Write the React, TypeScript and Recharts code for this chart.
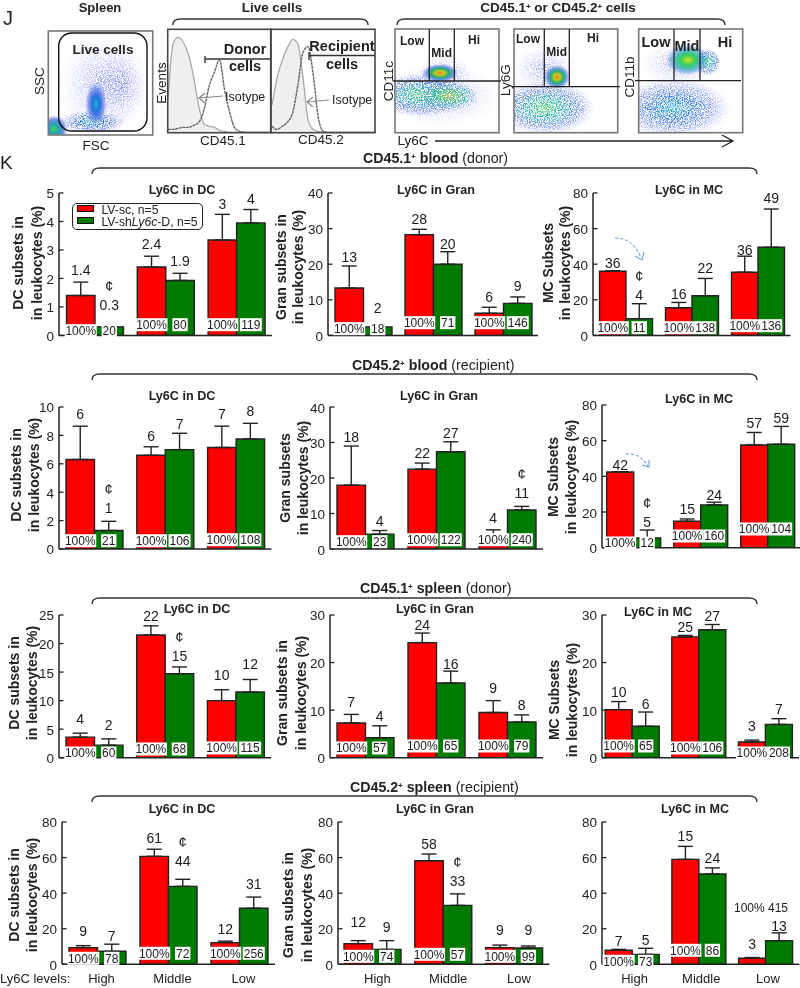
import React from 'react';
import { BarChart, Bar, XAxis, YAxis, ErrorBar, LabelList, Legend, ComposedChart, Area, Line } from 'recharts';

const FONT = '"Liberation Sans", Arial, sans-serif';
const INK = '#222';

// ---------- data: bars ----------
const levels = ['High', 'Middle', 'Low'];
const seriesNames = ['LV-sc, n=5', 'LV-shLy6c-D, n=5'];

const dcBloodDonorRed = [1.4, 2.4, 3.35];
const dcBloodDonorGreen = [0.3, 1.93, 3.95];
const dcBloodDonorRedErr = [0.47, 0.38, 0.9];
const dcBloodDonorGreenErr = [0, 0.25, 0.47];
const dcBloodDonorLabels = ['1.4', '2.4', '3', '0.3', '1.9', '4'];
const dcBloodDonorPct = ['20', '80', '119'];

const granBloodDonorRed = [13.3, 28.3, 6.2];
const granBloodDonorGreen = [2.4, 20, 9];
const granBloodDonorRedErr = [6.2, 1.5, 1.7];
const granBloodDonorGreenErr = [0, 3.5, 1.8];
const granBloodDonorLabels = ['13', '28', '6', '2', '20', '9'];
const granBloodDonorPct = ['18', '71', '146'];

const mcBloodDonorRed = [36, 15.5, 35.5];
const mcBloodDonorGreen = [9.4, 22.3, 49.5];
const mcBloodDonorRedErr = [0.3, 3, 9];
const mcBloodDonorGreenErr = [8.4, 9.7, 21.5];
const mcBloodDonorLabels = ['36', '16', '36', '4', '22', '49'];
const mcBloodDonorPct = ['11', '138', '136'];

const dcBloodRecRed = [6.3, 6.6, 7.15];
const dcBloodRecGreen = [1.3, 7, 7.75];
const dcBloodRecRedErr = [2.35, 0.6, 1.5];
const dcBloodRecGreenErr = [0.65, 1.15, 1.1];
const dcBloodRecLabels = ['6', '6', '7', '1', '7', '8'];
const dcBloodRecPct = ['21', '106', '108'];

const granBloodRecRed = [18, 22.5, 4];
const granBloodRecGreen = [4.2, 27.4, 11];
const granBloodRecRedErr = [11, 1.7, 1.4];
const granBloodRecGreenErr = [1, 2.8, 1];
const granBloodRecLabels = ['18', '22', '4', '4', '27', '11'];
const granBloodRecPct = ['23', '122', '240'];

const mcBloodRecRed = [42.4, 14.8, 57.6];
const mcBloodRecGreen = [5.4, 24, 58];
const mcBloodRecRedErr = [0.2, 1.3, 7];
const mcBloodRecGreenErr = [4.5, 1.5, 10];
const mcBloodRecLabels = ['42', '15', '57', '5', '24', '59'];
const mcBloodRecPct = ['12', '160', '104'];

const dcSpleenDonorRed = [3.6, 21.5, 10];
const dcSpleenDonorGreen = [2.2, 14.7, 11.5];
const dcSpleenDonorRedErr = [0.7, 1.6, 1.9];
const dcSpleenDonorGreenErr = [1.1, 1.2, 2.2];
const dcSpleenDonorLabels = ['4', '22', '10', '2', '15', '12'];
const dcSpleenDonorPct = ['60', '68', '115'];

const granSpleenDonorRed = [7.3, 24.2, 9.5];
const granSpleenDonorGreen = [4.2, 15.7, 7.5];
const granSpleenDonorRedErr = [1.8, 2, 2.5];
const granSpleenDonorGreenErr = [2.5, 2.5, 1.5];
const granSpleenDonorLabels = ['7', '24', '9', '4', '16', '8'];
const granSpleenDonorPct = ['57', '65', '79'];

const mcSpleenDonorRed = [10.1, 25.4, 3.3];
const mcSpleenDonorGreen = [6.6, 26.9, 7];
const mcSpleenDonorRedErr = [1.7, 0.3, 0.4];
const mcSpleenDonorGreenErr = [3, 1.1, 1.2];
const mcSpleenDonorLabels = ['10', '25', '3', '6', '27', '7'];
const mcSpleenDonorPct = ['65', '106', '208'];

const dcSpleenRecRed = [9.4, 60.7, 12.2];
const dcSpleenRecGreen = [7.3, 43.8, 31.5];
const dcSpleenRecRedErr = [1.1, 4, 0.8];
const dcSpleenRecGreenErr = [4, 4, 6.3];
const dcSpleenRecLabels = ['9', '61', '12', '7', '44', '31'];
const dcSpleenRecPct = ['78', '72', '256'];

const granSpleenRecRed = [11.6, 58.2, 9.4];
const granSpleenRecGreen = [8.4, 33.1, 9.2];
const granSpleenRecRedErr = [1.7, 3.8, 1.4];
const granSpleenRecGreenErr = [4.9, 6.5, 1.1];
const granSpleenRecLabels = ['12', '58', '9', '9', '33', '9'];
const granSpleenRecPct = ['74', '57', '99'];

const mcSpleenRecRed = [7.9, 59, 3.4];
const mcSpleenRecGreen = [5.6, 50.8, 13.3];
const mcSpleenRecRedErr = [0.5, 7.3, 0.4];
const mcSpleenRecGreenErr = [3.4, 3.4, 4.4];
const mcSpleenRecLabels = ['7', '15', '3', '5', '24', '13'];
const mcSpleenRecPct = ['73', '86', ''];

// ---------- data: histograms (percent of panel height, by percent of panel width) ----------
const histX = [0, 5, 10, 15, 20, 25, 30, 35, 40, 45, 50, 55, 60, 65, 70, 80, 90, 100];
const donorIsotype = [32, 86, 92, 87, 75, 53, 25, 8, 6, 5, 2, 1, 0, 0, 0, 0, 0, 0];
const donorCells = [3, 3, 4, 5, 5, 7, 10, 22, 45, 58, 70, 41, 19, 4, 1, 0, 0, 0];
const recipientIsotype = [26, 53, 70, 82, 90, 86, 54, 12, 3, 1, 0, 0, 0, 0, 0, 0, 0, 0];
const recipientCells = [6, 3, 6, 10, 19, 45, 77, 83, 56, 14, 1, 0, 0, 0, 0, 0, 0, 0];

// ---------- layout ----------
const P = [
  { n: 'DC', red: dcBloodDonorRed, green: dcBloodDonorGreen, rE: dcBloodDonorRedErr, gE: dcBloodDonorGreenErr, labels: dcBloodDonorLabels, pct: dcBloodDonorPct, max: 5, ticks: [0, 1, 2, 3, 4, 5], ax: 58.5, x0: 59, band: 70.8, bar: 28.5, top: 193.3, bot: 335.7, lift: [7, 7, 5, 17, 7, 6], boxY: [331, 325, 325], cent: [3], t: ['DC subsets in', 'in leukocytes (%)'], tx: [18, 37, 263], title: [182, 194], legend: true },
  { n: 'Gran', red: granBloodDonorRed, green: granBloodDonorGreen, rE: granBloodDonorRedErr, gE: granBloodDonorGreenErr, labels: granBloodDonorLabels, pct: granBloodDonorPct, max: 40, ticks: [0, 10, 20, 30, 40], ax: 328, x0: 328, band: 70, bar: 28.5, top: 193.3, bot: 335.7, lift: [4, 5, 5, 14, 3, 6], boxY: [329, 323, 323], cent: [], t: ['Gran subsets in', 'in leukocytes (%)'], tx: [281, 298, 267], title: [436, 194] },
  { n: 'MC', red: mcBloodDonorRed, green: mcBloodDonorGreen, rE: mcBloodDonorRedErr, gE: mcBloodDonorGreenErr, labels: mcBloodDonorLabels, pct: mcBloodDonorPct, max: 80, ticks: [0, 20, 40, 60, 80], ax: 593, x0: 592.5, band: 66, bar: 26.5, top: 193.3, bot: 335.7, lift: [3, 3, 1, 4, 5, 6], boxY: [328, 328, 326], cent: [3], t: ['MC Subsets', 'in leukocytes (%)'], tx: [548, 565, 263], title: [689, 194] },

  { n: 'DC', red: dcBloodRecRed, green: dcBloodRecGreen, rE: dcBloodRecRedErr, gE: dcBloodRecGreenErr, labels: dcBloodRecLabels, pct: dcBloodRecPct, max: 10, ticks: [0, 2, 4, 6, 8, 10], ax: 59, x0: 59, band: 70.8, bar: 28.5, top: 407.3, bot: 549.3, lift: [7, 6, 7, 8, 4, 7], boxY: [541, 541, 540], cent: [3], t: ['DC subsets in', 'in leukocytes (%)'], tx: [16, 34, 475], title: [182, 400] },
  { n: 'Gran', red: granBloodRecRed, green: granBloodRecGreen, rE: granBloodRecRedErr, gE: granBloodRecGreenErr, labels: granBloodRecLabels, pct: granBloodRecPct, max: 40, ticks: [0, 10, 20, 30, 40], ax: 330, x0: 330, band: 71, bar: 28.5, top: 407.3, bot: 549.3, lift: [4, 5, 7, 5, 4, 8], boxY: [542, 540, 540], cent: [5], t: ['Gran subsets', 'in leukocytes (%)'], tx: [285, 303, 478], title: [439, 400] },
  { n: 'MC', red: mcBloodRecRed, green: mcBloodRecGreen, rE: mcBloodRecRedErr, gE: mcBloodRecGreenErr, labels: mcBloodRecLabels, pct: mcBloodRecPct, max: 80, ticks: [0, 20, 40, 60, 80], ax: 601.5, x0: 599.2, band: 67, bar: 27, top: 405, bot: 547.7, lift: [2, 5, 4, 3, 2, 3], boxY: [543, 536, 529], cent: [3], t: ['MC Subsets', 'in leukocytes (%)'], tx: [553, 571, 477], title: [699, 403] },

  { n: 'DC', red: dcSpleenDonorRed, green: dcSpleenDonorGreen, rE: dcSpleenDonorRedErr, gE: dcSpleenDonorGreenErr, labels: dcSpleenDonorLabels, pct: dcSpleenDonorPct, max: 25, ticks: [0, 5, 10, 15, 20, 25], ax: 59, x0: 59, band: 70.7, bar: 28.5, top: 615, bot: 757.7, lift: [9, 5, 10, 9, 6, 10], boxY: [753, 749, 748], cent: [4], t: ['DC subsets in', 'in leukocytes (%)'], tx: [14, 32, 683], title: [197, 613] },
  { n: 'Gran', red: granSpleenDonorRed, green: granSpleenDonorGreen, rE: granSpleenDonorRedErr, gE: granSpleenDonorGreenErr, labels: granSpleenDonorLabels, pct: granSpleenDonorPct, max: 30, ticks: [0, 10, 20, 30], ax: 330, x0: 330, band: 71, bar: 28.5, top: 615, bot: 757.7, lift: [7, 3, 8, 5, 2, 5], boxY: [748, 746, 746], cent: [], t: ['Gran subsets in', 'in leukocytes (%)'], tx: [282, 301, 693], title: [435, 613] },
  { n: 'MC', red: mcSpleenDonorRed, green: mcSpleenDonorGreen, rE: mcSpleenDonorRedErr, gE: mcSpleenDonorGreenErr, labels: mcSpleenDonorLabels, pct: mcSpleenDonorPct, max: 30, ticks: [0, 10, 20, 30], ax: 601.5, x0: 598.7, band: 66.6, bar: 27, top: 615, bot: 757.7, lift: [5, 3, 9, 3, 4, 5], boxY: [746, 748, 753], cent: [], t: ['MC Subsets', 'in leukocytes (%)'], tx: [554, 572, 700], title: [658, 616] },

  { n: 'DC', red: dcSpleenRecRed, green: dcSpleenRecGreen, rE: dcSpleenRecRedErr, gE: dcSpleenRecGreenErr, labels: dcSpleenRecLabels, pct: dcSpleenRecPct, max: 80, ticks: [0, 20, 40, 60, 80], ax: 61.5, x0: 61.5, band: 71, bar: 28.5, top: 821.7, bot: 964, lift: [10, 6, 7, 3, 13, 8], boxY: [958, 953, 953], cent: [4], t: ['DC subsets in', 'in leukocytes (%)'], tx: [14, 32, 895], title: [182, 813], tickDx: 4 },
  { n: 'Gran', red: granSpleenRecRed, green: granSpleenRecGreen, rE: granSpleenRecRedErr, gE: granSpleenRecGreenErr, labels: granSpleenRecLabels, pct: granSpleenRecPct, max: 80, ticks: [0, 20, 40, 60, 80], ax: 338, x0: 337, band: 70.8, bar: 28.5, top: 821.7, bot: 964, lift: [14, 5, 10, 9, 8, 11], boxY: [956, 954, 956], cent: [4], t: ['Gran subsets in', 'in leukocytes (%)'], tx: [288, 307, 905], title: [435, 813], tickDx: 5 },
  { n: 'MC', red: mcSpleenRecRed, green: mcSpleenRecGreen, rE: mcSpleenRecRedErr, gE: mcSpleenRecGreenErr, labels: mcSpleenRecLabels, pct: mcSpleenRecPct, max: 80, ticks: [0, 20, 40, 60, 80], ax: 601.5, x0: 598.7, band: 66.7, bar: 27, top: 821.7, bot: 964, lift: [3, 5, 9, 3, 5, 2], boxY: [961, 950, 950], cent: [], t: [], tx: [0, 0, 0], title: [695, 813], tickDx: 2, noRedBox: [2] },
];

const ML = 42, MT = 14, MB = 24, MR = 8;

function Panel({ p }: { p: any }) {
  const plotW = p.x0 + 3 * p.band - p.ax;
  const plotH = p.bot - p.top;
  const w = plotW + ML + MR;
  const h = plotH + MT + MB;
  const ppu = plotH / p.max;
  const rows = levels.map((level, i) => ({
    level,
    red: p.red[i],
    green: p.green[i],
    redErr: [0, p.rE[i]],
    greenErr: [0, p.gE[i]],
  }));
  const xPad = { left: p.x0 - p.ax, right: 0 };
  const yTick = (t: any) => (
    <g>
      <line x1={ML} x2={ML + 4.5} y1={t.y} y2={t.y} stroke={INK} strokeWidth={1.3} />
      <text x={ML - 5} y={t.y + 5.5} textAnchor="end" fontSize={13.5} fill={INK} fontFamily={FONT}>{t.payload.value}</text>
    </g>
  );
  const xTick = (t: any) => (
    <text x={t.x + p.tickDx} y={p.bot - p.top + MT + 18.5} textAnchor="middle" fontSize={13} fill={INK} fontFamily={FONT}>{t.payload.value}</text>
  );
  const makeLabel = (offset: number, pctLabel: (i: number) => string) => (props: any) => {
    const i = props.index;
    const bx = Number(props.x) + Number(props.width) / 2;
    const err = offset === 0 ? p.rE[i] : p.gE[i];
    const by = Number(props.y) - err * ppu - p.lift[i + offset];
    const text = pctLabel(i);
    const bw = text === '100%' ? 32 : text.length * 6.67 + 2;
    const cy = p.boxY[i] - p.top + MT;
    return (
      <g fontFamily={FONT} textAnchor="middle" fill="#1a1a1a">
        {text && <rect x={bx - bw / 2} y={cy - 6.5} width={bw} height={13} fill="#fff" />}
        {text && <text x={bx} y={cy + 4.3} fontSize={12}>{text}</text>}
        <text x={bx} y={by} fontSize={14}>{p.labels[i + offset]}</text>
        {p.cent.includes(i + offset) && <text x={bx} y={by - 19} fontSize={15}>¢</text>}
      </g>
    );
  };
  const box = { position: 'absolute' as const, left: p.ax - ML, top: p.top - MT };
  return (
    <>
      <div style={box}>
        <BarChart width={w} height={h} data={rows} margin={{ top: MT, left: ML - 1, right: MR, bottom: MB - 1 }} barGap={0} barSize={p.bar}>
          <XAxis
            dataKey="level"
            height={1}
            padding={xPad}
            stroke={INK}
            axisLine={{ stroke: INK, strokeWidth: 1.5 }}
            tickLine={false}
            interval={0}
            tick={p.tickDx !== undefined ? xTick : false}
          />
          <YAxis
            type="number"
            width={1}
            domain={[0, p.max]}
            ticks={p.ticks}
            interval={0}
            allowDataOverflow
            axisLine={{ stroke: INK, strokeWidth: 1.5 }}
            tickLine={false}
            tick={yTick}
          />
          {p.legend && (
            <Legend
              layout="vertical"
              align="center"
              verticalAlign="middle"
              wrapperStyle={{ position: 'absolute', left: 72 - p.ax + ML, top: 203 - p.top + MT, width: 131, height: 27 }}
              content={() => (
                <div style={{ boxSizing: 'border-box', width: 131, height: 27, border: `1.5px solid ${INK}`, borderRadius: 5, background: '#fff', fontFamily: FONT, fontSize: 12.2, lineHeight: '12px', color: '#222', padding: '0.5px 0 0 3.5px', whiteSpace: 'nowrap' }}>
                  <div><span style={{ display: 'inline-block', width: 15, height: 5, background: '#f00', border: '1px solid #111', marginRight: 8, verticalAlign: 2 }} />{seriesNames[0]}</div>
                  <div><span style={{ display: 'inline-block', width: 15, height: 5, background: '#007a00', border: '1px solid #111', marginRight: 8, verticalAlign: 2 }} />LV-sh<i>Ly6c</i>-D, n=5</div>
                </div>
              )}
            />
          )}
          <Bar dataKey="red" name={seriesNames[0]} fill="#ff0000" stroke={INK} strokeWidth={1.4} isAnimationActive={false}>
            <ErrorBar dataKey="redErr" direction="y" width={7.5} stroke={INK} strokeWidth={1.4} isAnimationActive={false} />
          </Bar>
          <Bar dataKey="green" name={seriesNames[1]} fill="#007a00" stroke={INK} strokeWidth={1.4} isAnimationActive={false}>
            <ErrorBar dataKey="greenErr" direction="y" width={7.5} stroke={INK} strokeWidth={1.4} isAnimationActive={false} />
          </Bar>
        </BarChart>
      </div>
      <div style={box}>
        <BarChart width={w} height={h} data={rows} margin={{ top: MT, left: ML, right: MR, bottom: MB }} barGap={0} barSize={p.bar}>
          <XAxis dataKey="level" hide padding={xPad} />
          <YAxis type="number" hide domain={[0, p.max]} allowDataOverflow />
          <Bar dataKey="red" fill="none" stroke="none" isAnimationActive={false}>
            <LabelList dataKey="red" content={makeLabel(0, (i) => (p.noRedBox && p.noRedBox.includes(i) ? '' : '100%'))} />
          </Bar>
          <Bar dataKey="green" fill="none" stroke="none" isAnimationActive={false}>
            <LabelList dataKey="green" content={makeLabel(3, (i) => p.pct[i])} />
          </Bar>
        </BarChart>
      </div>
    </>
  );
}

function Hist({ left, top, w, h, iso, cells }: any) {
  const rows = histX.map((x, i) => ({ x, iso: iso[i], cells: cells[i] }));
  return (
    <div style={{ position: 'absolute', left, top }}>
      <ComposedChart width={w} height={h} data={rows} margin={{ top: 0, left: 0, right: 0, bottom: 0 }}>
        <XAxis dataKey="x" type="number" domain={[0, 100]} hide />
        <YAxis type="number" domain={[0, 100]} hide />
        <Area dataKey="iso" type="monotone" fill="#efefef" fillOpacity={1} stroke="#a8a8a8" strokeWidth={1.3} isAnimationActive={false} dot={false} />
        <Line dataKey="cells" type="monotone" stroke="#666" strokeWidth={1.4} strokeDasharray="3 0.6" isAnimationActive={false} dot={false} />
      </ComposedChart>
    </div>
  );
}

const T = ({ x, y, s = 13, b = false, a = 'middle', c = INK, children }: any) => (
  <text x={x} y={y} fontSize={s} fontWeight={b ? 700 : 400} textAnchor={a} fill={c} fontFamily={FONT}>{children}</text>
);
const R = ({ x, y, s = 14, b = false, children }: any) => (
  <text x={x} y={y} transform={`rotate(-90 ${x} ${y})`} fontSize={s} fontWeight={b ? 700 : 400} textAnchor="middle" dominantBaseline="central" fill={INK} fontFamily={FONT}>{children}</text>
);
const Bracket = ({ x0, x1, y }: any) => (
  <path d={`M${x0},${y + 6} Q${x0},${y} ${x0 + 8},${y} L${x1 - 8},${y} Q${x1},${y} ${x1},${y + 6}`} fill="none" stroke="#333" strokeWidth={1.4} />
);
const Heading = ({ x, y, id, tissue, who }: any) => (
  <text x={x} y={y} fontSize={14.2} fontFamily={FONT} fill={INK}>
    <tspan fontWeight={700}>{id}</tspan>
    <tspan fontWeight={700} fontSize={8} dy={-4}>+</tspan>
    <tspan fontWeight={700} dy={4}> {tissue}</tspan>
    <tspan> ({who})</tspan>
  </text>
);
const Blob = ({ cx, cy, rx, ry, g = 'cool', f = true, clip }: any) => (
  <g clipPath={clip}>
    <ellipse cx={cx} cy={cy} rx={rx} ry={ry} fill={`url(#${g})`} filter={f ? 'url(#speck)' : undefined} />
  </g>
);
const Gate = ({ x, y, w, v, hy }: any) => (
  <g stroke="#222" strokeWidth={1.3}>
    <line x1={x - 2} x2={x + w + 2} y1={hy} y2={hy} />
    {v.map((vx: number) => <line key={vx} x1={vx} x2={vx} y1={y} y2={hy} />)}
  </g>
);

function Decor() {
  return (
    <svg width={800} height={988} style={{ position: 'absolute', left: 0, top: 0, pointerEvents: 'none' }}>
      <defs>
        <radialGradient id="cool">
          <stop offset="0" stopColor="#18b8d0" />
          <stop offset="0.35" stopColor="#2070e0" />
          <stop offset="0.7" stopColor="#4a6ae0" stopOpacity="0.6" />
          <stop offset="1" stopColor="#8a8ae8" stopOpacity="0" />
        </radialGradient>
        <radialGradient id="green">
          <stop offset="0" stopColor="#40d060" />
          <stop offset="0.35" stopColor="#20a8b0" />
          <stop offset="0.7" stopColor="#3a60d8" stopOpacity="0.7" />
          <stop offset="1" stopColor="#8a8ae8" stopOpacity="0" />
        </radialGradient>
        <radialGradient id="faint">
          <stop offset="0" stopColor="#3a50d8" stopOpacity="0.6" />
          <stop offset="1" stopColor="#9a9aee" stopOpacity="0" />
        </radialGradient>
        <radialGradient id="hot">
          <stop offset="0" stopColor="#e08020" />
          <stop offset="0.25" stopColor="#c8c820" />
          <stop offset="0.5" stopColor="#20b070" />
          <stop offset="0.75" stopColor="#2a70d8" stopOpacity="0.6" />
          <stop offset="1" stopColor="#4a5ad8" stopOpacity="0" />
        </radialGradient>
        <radialGradient id="lime">
          <stop offset="0" stopColor="#d8e020" />
          <stop offset="0.35" stopColor="#30d060" />
          <stop offset="0.7" stopColor="#20a0c0" stopOpacity="0.6" />
          <stop offset="1" stopColor="#4a5ad8" stopOpacity="0" />
        </radialGradient>
        <filter id="speck" x="-10%" y="-10%" width="120%" height="120%">
          <feTurbulence type="fractalNoise" baseFrequency="0.85" numOctaves={2} seed={4} result="n" />
          <feColorMatrix in="n" type="matrix" values="0 0 0 0 0  0 0 0 0 0  0 0 0 0 0  0 0 0 3.2 -1.2" result="a" />
          <feComposite in="SourceGraphic" in2="a" operator="in" />
          <feGaussianBlur stdDeviation="0.35" />
        </filter>
        <clipPath id="cA"><rect x={48} y={31} width={105} height={104} /></clipPath>
        <clipPath id="cP"><rect x={395} y={29} width={104} height={104} /></clipPath>
        <clipPath id="cQ"><rect x={514} y={29} width={104} height={104} /></clipPath>
        <clipPath id="cR"><rect x={639} y={29} width={104} height={104} /></clipPath>
      </defs>

      <T x={3} y={25} s={20} a="start">J</T>
      <T x={0} y={169} s={19} a="start">K</T>
      <T x={100} y={12} s={13} b>Spleen</T>
      <T x={272} y={12} s={13.4} b>Live cells</T>
      <text x={558} y={12} fontSize={13.5} fontWeight={700} textAnchor="middle" fontFamily={FONT} fill={INK}>CD45.1<tspan fontSize={8} dy={-3}>+</tspan><tspan dy={3}> or CD45.2</tspan><tspan fontSize={8} dy={-3}>+</tspan><tspan dy={3}> cells</tspan></text>
      <Bracket x0={172.7} x1={368} y={19} />
      <Bracket x0={397} x1={725} y={19} />

      {/* FSC / SSC */}
      <Blob cx={100} cy={85} rx={42} ry={50} g="faint" clip="url(#cA)" />
      <Blob cx={122} cy={85} rx={28} ry={40} g="faint" clip="url(#cA)" />
      <Blob cx={92} cy={122} rx={34} ry={12} clip="url(#cA)" />
      <Blob cx={96} cy={104} rx={11} ry={22} f={false} clip="url(#cA)" />
      <Blob cx={54} cy={129} rx={14} ry={14} f={false} clip="url(#cA)" g="green" />
      <rect x={48.3} y={31} width={104.4} height={104} fill="none" stroke="#777" strokeWidth={1.6} />
      <rect x={58.7} y={33} width={88.3} height={98} rx={13} fill="none" stroke="#111" strokeWidth={1.4} />
      <T x={103} y={53.5} s={13.5} b>Live cells</T>
      <R x={39} y={81} s={13.5}>SSC</R>
      <T x={96} y={150} s={13.5}>FSC</T>

      {/* histogram frames and text */}
      <rect x={167.7} y={29.3} width={103} height={103.4} fill="none" stroke="#444" strokeWidth={1.6} />
      <rect x={271} y={29.3} width={104} height={103.4} fill="none" stroke="#444" strokeWidth={1.6} />
      <g stroke="#333" strokeWidth={1.4}>
        <line x1={205} x2={270} y1={59} y2={59} /><line x1={205} x2={205} y1={56} y2={63} />
        <line x1={309} x2={375} y1={55.5} y2={55.5} /><line x1={309} x2={309} y1={52} y2={60} />
      </g>
      <T x={245} y={54} s={14.5} b>Donor</T>
      <T x={245} y={71} s={14.5} b>cells</T>
      <T x={342} y={51} s={14.5} b>Recipient</T>
      <T x={342} y={69} s={14.5} b>cells</T>
      <T x={225} y={101} s={12.5} a="start">Isotype</T>
      <T x={332} y={104} s={12.5} a="start">Isotype</T>
      <g stroke="#888" strokeWidth={1.2} fill="none">
        <path d="M223,96 L199,98 M205,93 L199,98 L205,103" />
        <path d="M329,100 L307,102 M313,97 L307,102 L313,107" />
      </g>
      <R x={161} y={83} s={13.5}>Events</R>
      <T x={223} y={145} s={13.5}>CD45.1</T>
      <T x={321} y={144} s={13.5}>CD45.2</T>

      {/* Ly6C gating plots */}
      <Blob cx={442} cy={95} rx={58} ry={32} g="faint" clip="url(#cP)" />
      <Blob cx={420} cy={95} rx={48} ry={22} g="green" clip="url(#cP)" />
      <Blob cx={449} cy={96} rx={30} ry={15} g="lime" clip="url(#cP)" />
      <Blob cx={445} cy={72} rx={28} ry={18} g="faint" clip="url(#cP)" />
      <Blob cx={440} cy={73} rx={18} ry={9} g="hot" f={false} clip="url(#cP)" />
      <rect x={395} y={29} width={104} height={103.7} fill="none" stroke="#777" strokeWidth={1.6} />
      <Gate x={395} y={29} w={104} hy={81} v={[429.3, 454.3]} />
      <T x={412} y={44.5} s={12} b>Low</T>
      <T x={441.7} y={56.7} s={12} b>Mid</T>
      <T x={474} y={43.5} s={12} b>Hi</T>
      <R x={388} y={81} s={13.5}>CD11c</R>

      <Blob cx={545} cy={108} rx={50} ry={27} g="green" clip="url(#cQ)" />
      <Blob cx={545} cy={70} rx={34} ry={26} g="faint" clip="url(#cQ)" />
      <Blob cx={557} cy={77} rx={13} ry={12} g="hot" f={false} clip="url(#cQ)" />
      <rect x={514} y={29} width={103.7} height={103.7} fill="none" stroke="#777" strokeWidth={1.6} />
      <Gate x={514} y={29} w={104} hy={86.7} v={[544.3, 569.3]} />
      <T x={528} y={43} s={12} b>Low</T>
      <T x={556.7} y={56} s={12} b>Mid</T>
      <T x={593} y={42} s={12} b>Hi</T>
      <R x={505} y={80} s={13.5}>Ly6G</R>

      <Blob cx={673} cy={108} rx={58} ry={30} g="cool" clip="url(#cR)" />
      <Blob cx={680} cy={64} rx={40} ry={24} g="faint" clip="url(#cR)" />
      <Blob cx={688} cy={60} rx={22} ry={15} g="lime" f={false} clip="url(#cR)" />
      <Blob cx={708} cy={62} rx={13} ry={14} g="green" clip="url(#cR)" />
      <rect x={638.7} y={29} width={104} height={103.7} fill="none" stroke="#777" strokeWidth={1.6} />
      <Gate x={637} y={29} w={102} hy={80.7} v={[674, 700]} />
      <T x={656} y={47} s={14.5} b>Low</T>
      <T x={687} y={51} s={14.5} b>Mid</T>
      <T x={725} y={47} s={14.5} b>Hi</T>
      <R x={629} y={77} s={13.5}>CD11b</R>

      <T x={413} y={145} s={13.5}>Ly6C</T>
      <path d="M435,141 L733,141 M722,135 L733,141 L722,147" fill="none" stroke="#222" strokeWidth={1.3} />

      {/* section headings */}
      <Heading x={363} y={163} id="CD45.1" tissue="blood" who="donor" />
      <Bracket x0={92} x1={757} y={168} />
      <Heading x={352} y={370} id="CD45.2" tissue="blood" who="recipient" />
      <Bracket x0={92} x1={757} y={374} />
      <Heading x={360} y={593} id="CD45.1" tissue="spleen" who="donor" />
      <Bracket x0={92} x1={757} y={598} />
      <Heading x={350} y={792} id="CD45.2" tissue="spleen" who="recipient" />
      <Bracket x0={92} x1={757} y={796} />

      {/* panel titles */}
      {P.map((p, i) => (
        <T key={i} x={p.title[0]} y={p.title[1]} s={12.6} b>{`Ly6C in ${p.n}`}</T>
      ))}
      {P.map((p, i) => p.t.length > 0 && (
        <g key={i}>
          <R x={p.tx[0]} y={p.tx[2]} s={14} b>{p.t[0]}</R>
          <R x={p.tx[1]} y={p.tx[2]} s={14} b>{p.t[1]}</R>
        </g>
      ))}

      {/* blue arrows */}
      <g fill="none" stroke="#6fa0dc" strokeWidth={1.1}>
        <path d="M615,238 Q633,238 641,258" strokeDasharray="3 2" />
        <path d="M635,256 L642,260 L644,252" />
        <path d="M626,454 Q640,453 648,466" strokeDasharray="3 2" />
        <path d="M642,465 L649,467 L649,460" />
      </g>

      <T x={0} y={983} s={13} a="start">Ly6C levels:</T>
      <T x={734} y={912} s={12} a="start">100% 415</T>
    </svg>
  );
}

export default function App() {
  return (
    <div style={{ position: 'absolute', left: 0, top: 0, width: 800, height: 988, background: '#fff', overflow: 'hidden', filter: 'blur(0.3px)' }}>
      <Hist left={168} top={29} w={103} h={103.5} iso={donorIsotype} cells={donorCells} />
      <Hist left={272} top={29} w={103} h={103.5} iso={recipientIsotype} cells={recipientCells} />
      {P.map((p, i) => <Panel key={i} p={p} />)}
      <Decor />
    </div>
  );
}
